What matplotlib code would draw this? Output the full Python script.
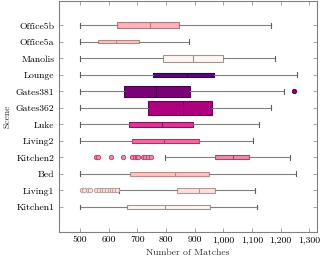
import matplotlib
matplotlib.use("Agg")
import matplotlib.pyplot as plt
import numpy as np

scenes = ["Kitchen1", "Living1", "Bed", "Kitchen2", "Living2", "Luke",
          "Gates362", "Gates381", "Lounge", "Manolis", "Office5a", "Office5b"]
whislo = [500, 636, 500, 797, 500, 500, 500, 500, 500, 500, 500, 500]
q1     = [662, 837, 675, 972, 682, 670, 737, 653, 753, 788, 561, 628]
med    = [797, 914, 832, 1035, 794, 784, 860, 765, 872, 893, 624, 745]
q3     = [954, 972, 951, 1090, 916, 895, 960, 883, 968, 998, 706, 846]
whishi = [1116, 1111, 1254, 1233, 1104, 1125, 1167, 1213, 1256, 1180, 879, 1167]
fliers = [[], [505, 513, 528, 536, 557, 566, 575, 584, 593, 603, 611, 619, 627], [],
          [555, 563, 607, 648, 682, 690, 697, 703, 718, 727, 736, 746],
          [], [], [], [1248], [], [], [], []]
widths = [0.23, 0.32, 0.26, 0.24, 0.2, 0.35, 0.81, 0.67, 0.23, 0.41, 0.18, 0.35]
fills = ["#fff7f3", "#fde0dd", "#fcc5c0", "#f28bab", "#f768a1", "#dd3497",
         "#ae017e", "#7a0177", "#520a7c", "#fff7f3", "#fcc5c0", "#fbb4b9"]
edges = ["#a09590", "#b09a98", "#c08a88", "#b0406a", "#b0306a", "#8a1060",
         "#6a0050", "#4a0048", "#300048", "#a09590", "#b08a88", "#b07a80"]
xticks = [500, 600, 700, 800, 900, 1000, 1100, 1200, 1300]
xticklabels = ["500", "600", "700", "800", "900", "1,000", "1,100", "1,200", "1,300"]

plt.rcParams['font.family'] = ['cmr10', 'DejaVu Serif']
plt.rcParams['axes.formatter.use_mathtext'] = True

fig = plt.figure(figsize=(3.24, 2.61), dpi=100)
ax = fig.add_axes([0.181, 0.112, 0.796, 0.886])

positions = np.arange(1, len(scenes) + 1)
for i, s in enumerate(scenes):
    st = [dict(whislo=whislo[i], q1=q1[i], med=med[i], q3=q3[i],
               whishi=whishi[i], fliers=fliers[i], label=s)]
    ax.bxp(st, positions=[positions[i]], widths=[widths[i]], vert=False,
           patch_artist=True, capwidths=[0.3],
           boxprops=dict(facecolor=fills[i], edgecolor=edges[i], linewidth=0.8),
           medianprops=dict(color=edges[i], linewidth=0.8),
           whiskerprops=dict(color="#808080", linewidth=0.8),
           capprops=dict(color="#606060", linewidth=0.8),
           flierprops=dict(marker="o", markersize=3.2, markerfacecolor=fills[i],
                           markeredgecolor=edges[i], markeredgewidth=0.6,
                           linestyle="none"),
           manage_ticks=False)

ax.set_yticks(positions)
ax.set_yticklabels(scenes)
ax.set_ylim(-0.5, 13.5)
ax.set_xlim(425, 1325)
ax.set_xticks(xticks)
ax.set_xticklabels(xticklabels)
ax.tick_params(direction="in", length=3, width=0.5, color="#808080",
               labelsize=7, top=True, right=True, pad=3)
for sp in ax.spines.values():
    sp.set_color("#808080")
    sp.set_linewidth(0.8)
ax.set_xlabel("Number of Matches", fontsize=7, color="#333333", labelpad=3)
ax.set_ylabel("Scene", fontsize=7, color="#333333", labelpad=3)

fig.savefig("out.png", dpi=100)
